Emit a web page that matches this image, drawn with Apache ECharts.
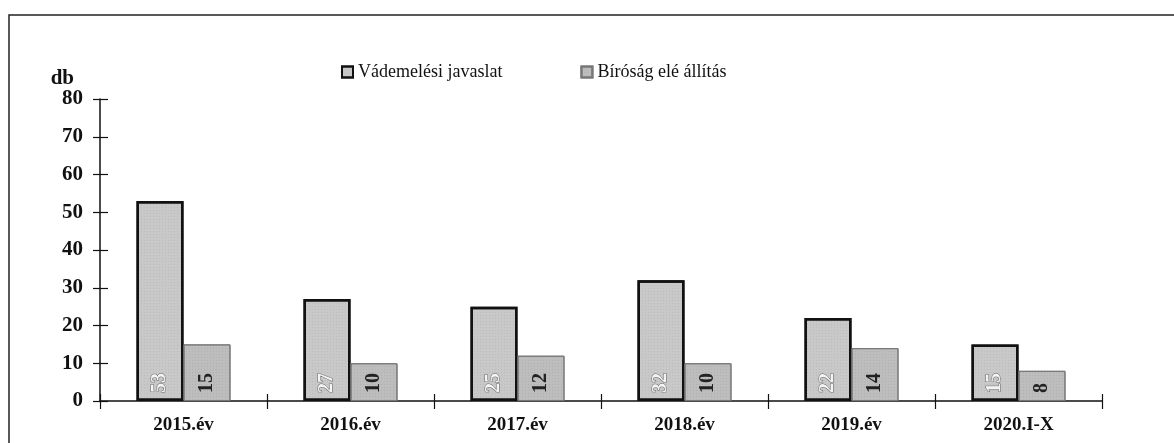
<!DOCTYPE html>
<html>
<head>
<meta charset="utf-8">
<script src="https://cdn.jsdelivr.net/npm/echarts@6/dist/echarts.min.js"></script>
<style>
html,body{margin:0;padding:0;background:#fff;}
#c{width:1174px;height:443px;}
</style>
</head>
<body>
<div id="c"></div>
<script>
const categories = ['2015.év', '2016.év', '2017.év', '2018.év', '2019.év', '2020.I-X'];
const seriesNames = ['Vádemelési javaslat', 'Bíróság elé állítás'];
const vademelesi = [53, 27, 25, 32, 22, 15];
const birosag = [15, 10, 12, 10, 14, 8];
const yTicks = { min: 0, max: 80, interval: 10 };

const chart = echarts.init(document.getElementById('c'));
const serif = '"Liberation Serif", "DejaVu Serif", serif';
const labelCommon = {
  show: true,
  position: 'insideBottom',
  rotate: 90,
  align: 'left',
  verticalAlign: 'middle',
  distance: 8,
  fontFamily: serif,
  fontWeight: 'bold',
  fontSize: 20
};
chart.setOption({
  animation: false,
  backgroundColor: '#fff',
  graphic: [{
    type: 'rect',
    shape: { x: 9, y: 15, width: 1200, height: 500 },
    style: { fill: 'none', stroke: '#222', lineWidth: 1.5 },
    silent: true
  }],
  legend: {
    top: 58,
    left: 336,
    itemGap: 78,
    itemWidth: 11,
    itemHeight: 11,
    icon: 'rect',
    textStyle: { fontFamily: serif, fontSize: 18, color: '#111' },
    data: seriesNames
  },
  grid: { left: 100, right: 72, top: 99, bottom: 42 },
  xAxis: [{
    type: 'category',
    data: categories,
    axisLine: { lineStyle: { color: '#111', width: 1.5 } },
    axisTick: { show: true, length: 8, lineStyle: { color: '#111', width: 1.2 } },
    axisLabel: { fontFamily: serif, fontWeight: 'bold', fontSize: 19, color: '#111', margin: 15 }
  }, {
    type: 'category',
    data: categories,
    position: 'bottom',
    axisLine: { show: false },
    axisTick: { show: true, inside: true, length: 7, lineStyle: { color: '#111', width: 1.2 } },
    axisLabel: { show: false }
  }],
  yAxis: [{
    type: 'value',
    min: yTicks.min, max: yTicks.max, interval: yTicks.interval,
    name: 'db',
    nameLocation: 'end',
    nameGap: 4,
    nameTextStyle: { fontFamily: serif, fontWeight: 'bold', fontSize: 21, color: '#111', align: 'right', padding: [0, 26, 0, 0] },
    splitLine: { show: false },
    axisLine: { show: true, lineStyle: { color: '#111', width: 1.5 } },
    axisTick: { show: true, length: 7, lineStyle: { color: '#111', width: 1.2 } },
    axisLabel: { fontFamily: serif, fontWeight: 'bold', fontSize: 21, color: '#111', margin: 17 }
  }, {
    type: 'value',
    position: 'left',
    min: yTicks.min, max: yTicks.max, interval: yTicks.interval,
    splitLine: { show: false },
    axisLine: { show: false },
    axisTick: { show: true, inside: true, length: 8, lineStyle: { color: '#111', width: 1.2 } },
    axisLabel: { show: false }
  }],
  series: [{
    name: seriesNames[0],
    type: 'bar',
    data: vademelesi,
    barWidth: 47,
    barGap: '0%',
    itemStyle: {
      color: '#c8c8c8',
      borderColor: '#111',
      borderWidth: 2.5,
      decal: { symbol: 'rect', symbolSize: 0.5, color: 'rgba(80,80,80,0.4)', dashArrayX: [1, 2], dashArrayY: [1, 2], rotation: 0 }
    },
    label: Object.assign({}, labelCommon, { color: '#f4f4f4', textBorderColor: '#666', textBorderWidth: 1 })
  }, {
    name: seriesNames[1],
    type: 'bar',
    data: birosag,
    barWidth: 47,
    itemStyle: {
      color: '#bdbdbd',
      borderColor: '#777',
      borderWidth: 1,
      decal: { symbol: 'rect', symbolSize: 0.5, color: 'rgba(60,60,60,0.4)', dashArrayX: [1, 2], dashArrayY: [1, 2], rotation: 0 }
    },
    label: Object.assign({}, labelCommon, { color: '#222' })
  }]
});
</script>
</body>
</html>
